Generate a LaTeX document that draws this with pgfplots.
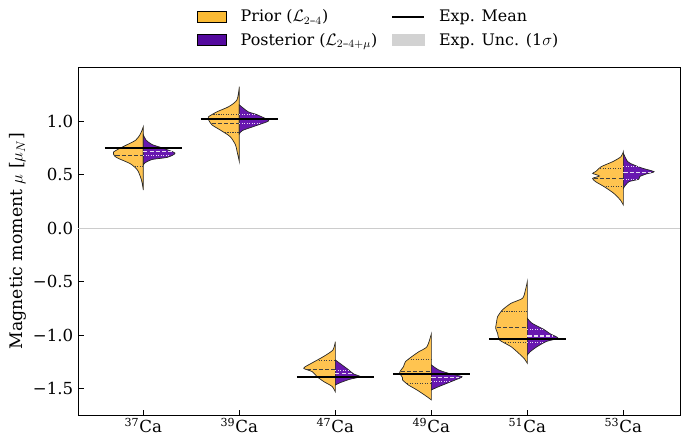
\documentclass[border=0pt]{standalone}
\usepackage{amsmath}
\usepackage{fontspec}
\setmainfont{DejaVu Serif}
\usepackage{pgfplots}
\pgfplotsset{compat=1.18}

\definecolor{prior}{RGB}{255,196,80}
\definecolor{priorleg}{RGB}{250,186,52}
\definecolor{post}{RGB}{104,24,176}
\definecolor{postleg}{RGB}{84,10,158}
\definecolor{unc}{RGB}{210,210,210}

\tikzset{
  vio/.style={draw=black!85, line width=0.5pt, smooth, tension=0.4},
  pmed/.style={black!75, line width=0.7pt, dash pattern=on 3pt off 1.5pt},
  pq/.style={black!75, line width=0.7pt, dash pattern=on 0.8pt off 1pt},
  qmed/.style={white!85!post, line width=0.8pt, dash pattern=on 3pt off 1.5pt},
  qq/.style={white!85!post, line width=0.7pt, dash pattern=on 0.8pt off 1pt},
  expm/.style={black, line width=1.4pt},
}

\begin{document}
\begin{tikzpicture}
\begin{axis}[
    name=ax,
    scale only axis, width=433.4bp, height=251bp,
    xmin=-0.68, xmax=5.59, ymin=-1.753, ymax=1.505,
    xtick={0,1,2,3,4,5},
    xticklabels={\textsuperscript{37}Ca,\textsuperscript{39}Ca,\textsuperscript{47}Ca,\textsuperscript{49}Ca,\textsuperscript{51}Ca,\textsuperscript{53}Ca},
    ytick={-1.5,-1,-0.5,0,0.5,1},
    yticklabels={−1.5,−1.0,−0.5,0.0,0.5,1.0},
    tick align=inside, xtick pos=bottom, ytick pos=left,
    major tick length=4bp,
    tick style={black, line width=0.6pt},
    axis line style={line width=0.6pt},
    ticklabel style={font=\fontsize{12}{14}\selectfont},
    xticklabel style={yshift=1.5bp},
    ylabel={Magnetic moment $\mu$ [$\mu_N$]},
    ylabel style={font=\fontsize{12.5}{15}\selectfont, xshift=0bp, yshift=-2bp},
    clip=false,
    legend columns=2,
    legend style={at={(0.5,1)}, anchor=south, yshift=10bp, draw=none, fill=none,
        font=\fontsize{11.5}{13.5}\selectfont, row sep=2.5bp,
        /tikz/every odd column/.append style={column sep=8bp},
        /tikz/every even column/.append style={column sep=8bp}},
    legend cell align=left,
]
% legend
\addlegendimage{legend image code/.code={\draw[fill=priorleg,draw=black,line width=0.5pt] (0bp,-4bp) rectangle (21bp,4bp);}}
\addlegendentry{Prior ($\mathcal{L}_{2\text{–}4}$)}
\addlegendimage{legend image code/.code={\draw[black,line width=1.4pt] (0bp,0bp) -- (23bp,0bp);}}
\addlegendentry{Exp. Mean}
\addlegendimage{legend image code/.code={\draw[fill=postleg,draw=black,line width=0.5pt] (0bp,-4bp) rectangle (21bp,4bp);}}
\addlegendentry{Posterior ($\mathcal{L}_{2\text{–}4+\mu}$)}
\addlegendimage{legend image code/.code={\fill[unc] (0bp,-4bp) rectangle (23bp,4bp);}}
\addlegendentry{Exp. Unc. (1$\sigma$)}

% zero line
\addplot[forget plot, black!20, line width=0.6pt] coordinates {(-0.68,0) (5.59,0)};

% 37Ca
\addplot[forget plot, vio, fill=prior] coordinates {(0,0.947) (-0.03,0.88) (-0.08,0.82) (-0.21,0.76) (-0.31,0.71) (-0.30,0.673) (-0.26,0.65) (-0.135,0.60) (-0.06,0.54) (-0.02,0.45) (0,0.355)} -- cycle;
\addplot[forget plot, vio, fill=post] coordinates {(0,0.87) (0.03,0.82) (0.09,0.78) (0.19,0.75) (0.33,0.70) (0.25,0.66) (0.09,0.64) (0.02,0.61) (0,0.59)} -- cycle;
\addplot[forget plot, pmed] coordinates {(-0.29,0.673) (0,0.673)};
\addplot[forget plot, pq] coordinates {(-0.22,0.745) (0,0.745)};
\addplot[forget plot, pq] coordinates {(-0.09,0.57) (0,0.57)};
\addplot[forget plot, qmed] coordinates {(0,0.713) (0.30,0.713)};
\addplot[forget plot, qq] coordinates {(0,0.74) (0.21,0.74)};
\addplot[forget plot, qq] coordinates {(0,0.68) (0.27,0.68)};

% 39Ca
\addplot[forget plot, vio, fill=prior] coordinates {(1,1.32) (0.975,1.196) (0.89,1.134) (0.77,1.087) (0.68,1.04) (0.68,1.01) (0.715,0.963) (0.80,0.916) (0.905,0.853) (0.96,0.776) (0.98,0.70) (1,0.62)} -- cycle;
\addplot[forget plot, vio, fill=post] coordinates {(1,1.15) (1.09,1.087) (1.18,1.06) (1.30,1.01) (1.29,0.993) (1.145,0.947) (1.03,0.91) (1,0.88)} -- cycle;
\addplot[forget plot, pmed] coordinates {(0.71,0.978) (1,0.978)};
\addplot[forget plot, pq] coordinates {(0.73,1.062) (1,1.062)};
\addplot[forget plot, pq] coordinates {(0.85,0.89) (1,0.89)};
\addplot[forget plot, qmed] coordinates {(1,1.015) (1.29,1.015)};
\addplot[forget plot, qq] coordinates {(1,1.06) (1.17,1.06)};
\addplot[forget plot, qq] coordinates {(1,0.975) (1.22,0.975)};

% 47Ca
\addplot[forget plot, vio, fill=prior] coordinates {(2,-1.062) (1.975,-1.14) (1.88,-1.2) (1.76,-1.26) (1.67,-1.31) (1.76,-1.343) (1.81,-1.39) (1.88,-1.436) (1.965,-1.48) (2,-1.53)} -- cycle;
\addplot[forget plot, vio, fill=post] coordinates {(2,-1.234) (2.07,-1.28) (2.14,-1.327) (2.19,-1.364) (2.26,-1.39) (2.15,-1.414) (2.05,-1.446) (2,-1.467)} -- cycle;
\addplot[forget plot, pmed] coordinates {(1.70,-1.32) (2,-1.32)};
\addplot[forget plot, pq] coordinates {(1.80,-1.234) (2,-1.234)};
\addplot[forget plot, pq] coordinates {(1.83,-1.40) (2,-1.40)};
\addplot[forget plot, qmed] coordinates {(2,-1.364) (2.18,-1.364)};
\addplot[forget plot, qq] coordinates {(2,-1.33) (2.13,-1.33)};
\addplot[forget plot, qq] coordinates {(2,-1.40) (2.20,-1.40)};

% 49Ca
\addplot[forget plot, vio, fill=prior] coordinates {(3,-0.99) (2.955,-1.109) (2.87,-1.156) (2.80,-1.2) (2.73,-1.25) (2.71,-1.296) (2.67,-1.35) (2.70,-1.40) (2.70,-1.42) (2.76,-1.467) (2.85,-1.514) (2.955,-1.577) (3,-1.607)} -- cycle;
\addplot[forget plot, vio, fill=post] coordinates {(3,-1.28) (3.077,-1.327) (3.20,-1.364) (3.32,-1.39) (3.25,-1.42) (3.165,-1.451) (3.06,-1.489) (3,-1.514)} -- cycle;
\addplot[forget plot, pmed] coordinates {(2.68,-1.343) (3,-1.343)};
\addplot[forget plot, pq] coordinates {(2.76,-1.227) (3,-1.227)};
\addplot[forget plot, pq] coordinates {(2.75,-1.458) (3,-1.458)};
\addplot[forget plot, qmed] coordinates {(3,-1.40) (3.29,-1.40)};
\addplot[forget plot, qq] coordinates {(3,-1.36) (3.18,-1.36)};
\addplot[forget plot, qq] coordinates {(3,-1.43) (3.20,-1.43)};

% 51Ca
\addplot[forget plot, vio, fill=prior] coordinates {(4,-0.50) (3.98,-0.58) (3.95,-0.657) (3.83,-0.704) (3.74,-0.766) (3.69,-0.829) (3.68,-0.876) (3.67,-0.937) (3.69,-0.984) (3.71,-1.047) (3.83,-1.109) (3.91,-1.171) (3.965,-1.218) (4,-1.265)} -- cycle;
\addplot[forget plot, vio, fill=post] coordinates {(4,-0.844) (4.05,-0.891) (4.17,-0.947) (4.24,-0.99) (4.32,-1.03) (4.20,-1.06) (4.10,-1.11) (4.03,-1.156) (4,-1.187)} -- cycle;
\addplot[forget plot, pmed] coordinates {(3.68,-0.932) (4,-0.932)};
\addplot[forget plot, pq] coordinates {(3.73,-0.782) (4,-0.782)};
\addplot[forget plot, pq] coordinates {(3.77,-1.072) (4,-1.072)};
\addplot[forget plot, qmed] coordinates {(4,-1.01) (4.27,-1.01)};
\addplot[forget plot, qq] coordinates {(4,-0.95) (4.16,-0.95)};
\addplot[forget plot, qq] coordinates {(4,-1.07) (4.17,-1.07)};

% 53Ca
\addplot[forget plot, vio, fill=prior] coordinates {(5,0.713) (4.975,0.666) (4.89,0.62) (4.77,0.573) (4.71,0.526) (4.68,0.51) (4.75,0.486) (4.68,0.464) (4.71,0.433) (4.80,0.386) (4.90,0.324) (4.97,0.26) (5,0.215)} -- cycle;
\addplot[forget plot, vio, fill=post] coordinates {(5,0.698) (5.045,0.62) (5.11,0.589) (5.20,0.558) (5.32,0.526) (5.24,0.505) (5.17,0.48) (5.16,0.455) (5.06,0.433) (5.01,0.386) (5,0.37)} -- cycle;
\addplot[forget plot, pmed] coordinates {(4.69,0.464) (5,0.464)};
\addplot[forget plot, pq] coordinates {(4.76,0.558) (5,0.558)};
\addplot[forget plot, pq] coordinates {(4.79,0.39) (5,0.39)};
\addplot[forget plot, qmed] coordinates {(5,0.52) (5.29,0.52)};
\addplot[forget plot, qq] coordinates {(5,0.573) (5.16,0.573)};
\addplot[forget plot, qq] coordinates {(5,0.455) (5.15,0.455)};

% experimental means
\addplot[forget plot, expm] coordinates {(-0.4,0.748) (0.4,0.748)};
\addplot[forget plot, expm] coordinates {(0.6,1.019) (1.4,1.019)};
\addplot[forget plot, expm] coordinates {(1.6,-1.393) (2.4,-1.393)};
\addplot[forget plot, expm] coordinates {(2.6,-1.368) (3.4,-1.368)};
\addplot[forget plot, expm] coordinates {(3.6,-1.037) (4.4,-1.037)};
\end{axis}
\pgfresetboundingbox
\path ([xshift=-56.2bp,yshift=-15.5bp]ax.south west) rectangle ([xshift=3.6bp,yshift=48.2bp]ax.north east);
\end{tikzpicture}
\end{document}
